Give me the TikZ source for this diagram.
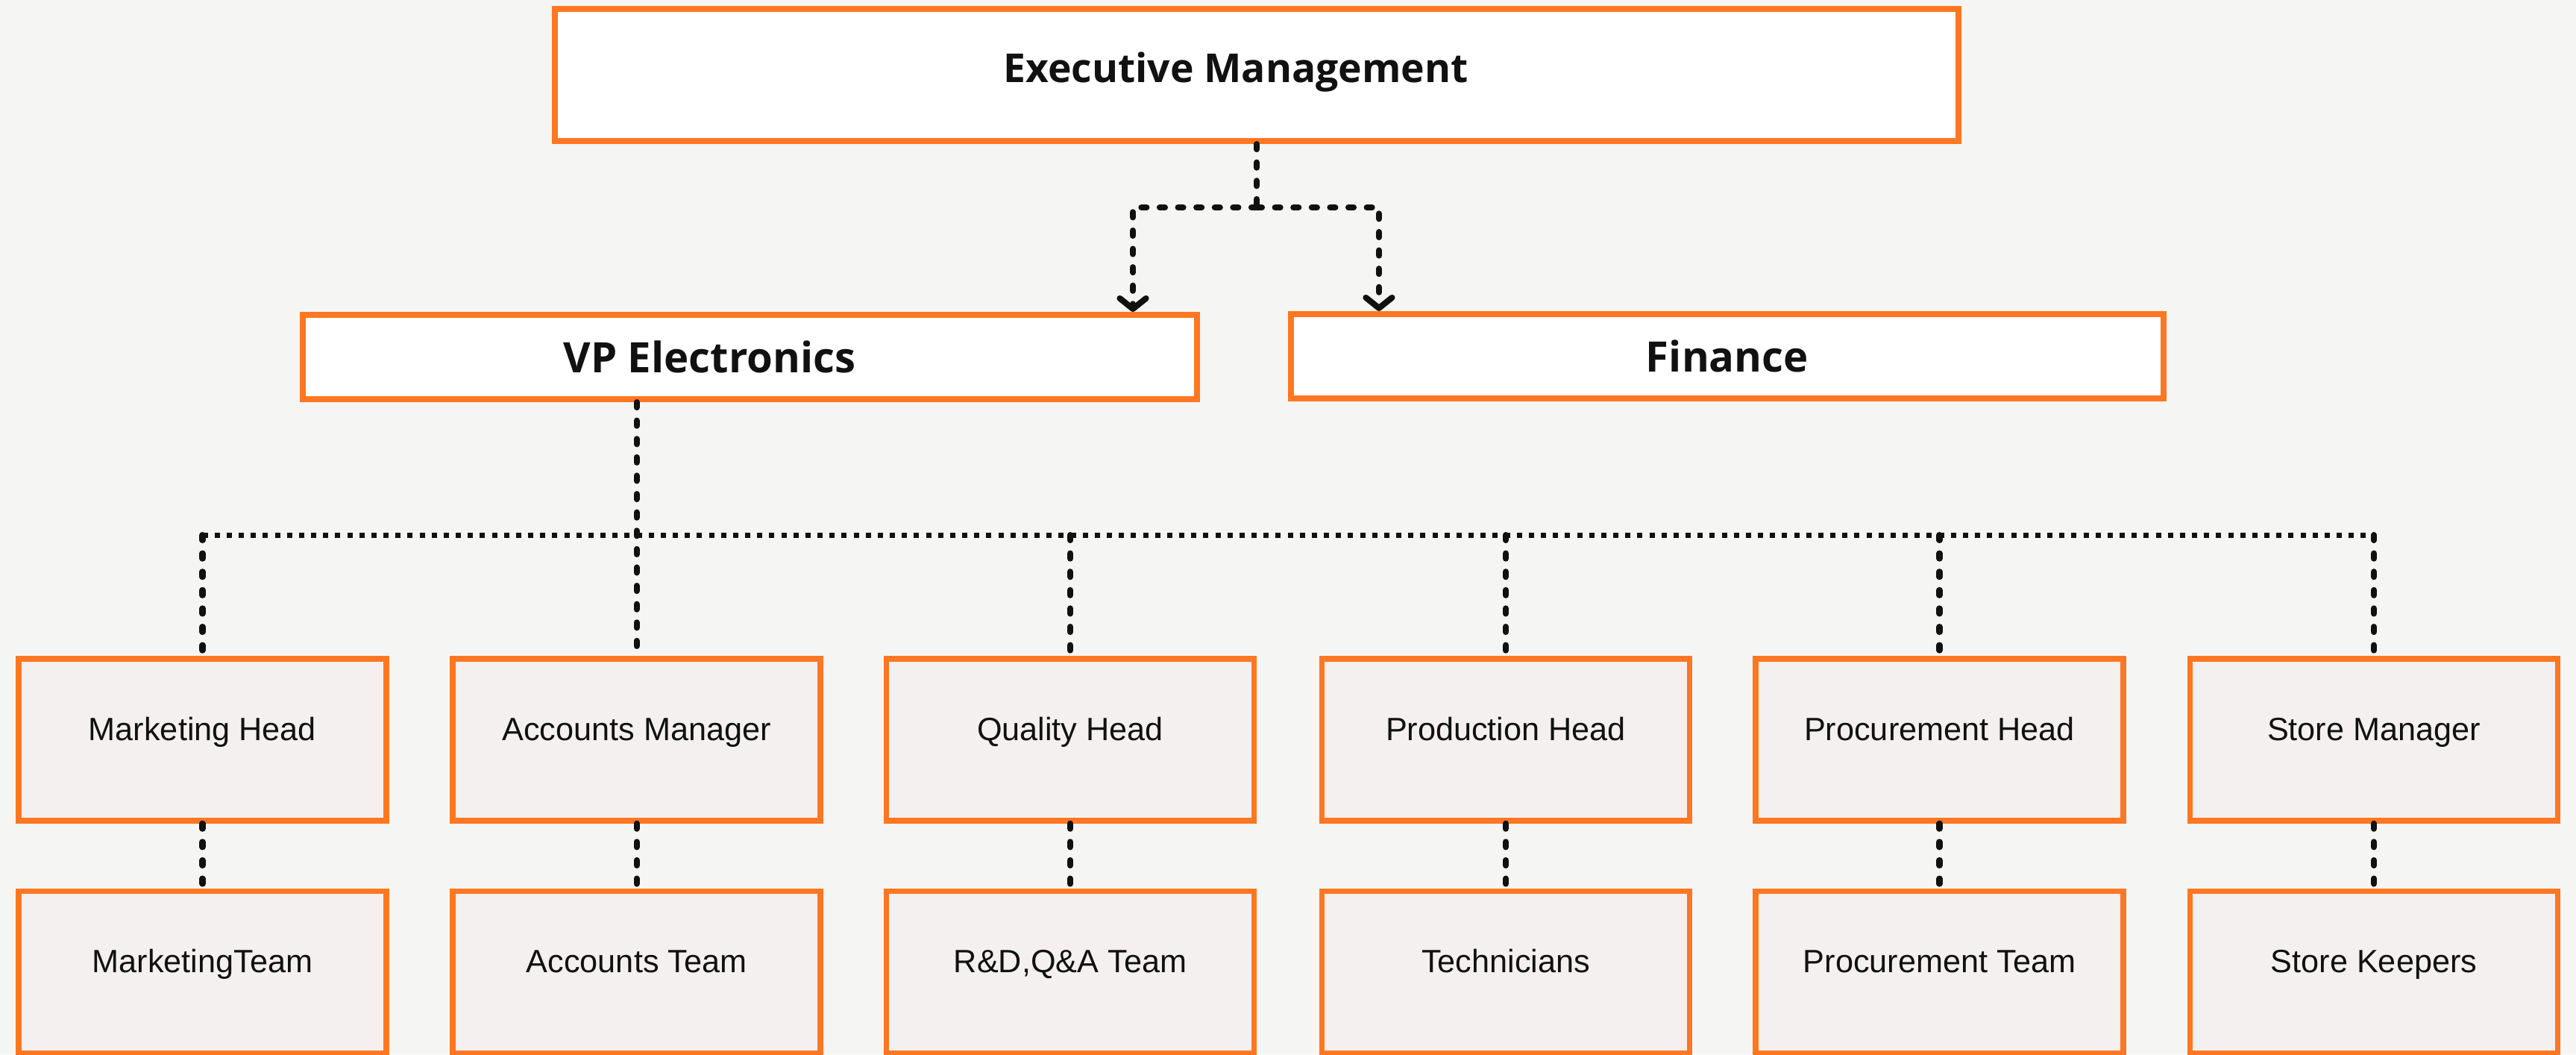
\documentclass[tikz,border=0pt]{standalone}
\usepackage{fontspec}
\setmainfont{Liberation Sans}
\newfontfamily\headfont{Open Sans}
\usepackage{tikz}
\usetikzlibrary{arrows.meta,calc}
\definecolor{orgline}{HTML}{FF7722}
\definecolor{paper}{HTML}{F5F5F3}
\definecolor{boxfill}{HTML}{F3F0EF}
\definecolor{ink}{HTML}{111111}
\tikzstyle{topbox}=[draw=orgline,line width=2.3pt,fill=white,inner sep=0pt]
\tikzstyle{title}=[font=\headfont\bfseries\fontsize{16}{19}\selectfont,text=ink]
\tikzstyle{unitbox}=[draw=orgline,line width=2.1pt,fill=boxfill,minimum width=4.93cm,minimum height=2.17cm,inner sep=0pt,text height=9pt,text depth=8.6pt,font=\fontsize{12.3}{14}\selectfont,text=ink]
\tikzstyle{link}=[draw=ink,line width=2.3pt,line cap=round,dash pattern=on 2pt off 5pt]
\tikzstyle{bus}=[draw=ink,line width=2pt,line cap=butt,dash pattern=on 2pt off 2.6pt]

\begin{document}
\begin{tikzpicture}
    % Page and background
    \path[use as bounding box,fill=paper] (0,0) rectangle (34.54,-14.13);

    % First we draw the top boxes
    \node[topbox,minimum width=18.82cm,minimum height=1.77cm,label={[title,font=\headfont\bfseries\fontsize{15.2}{18}\selectfont,xshift=-2.8mm,yshift=0.4mm]center:Executive Management}] (exec) at (16.85,-1.005) {};
    \node[topbox,minimum width=11.99cm,minimum height=1.13cm,label={[title,xshift=-5.4mm]center:VP Electronics}] (vp) at (10.055,-4.785) {};
    \node[topbox,minimum width=11.70cm,minimum height=1.13cm,label={[title]center:Finance}] (fin) at (23.16,-4.775) {};

    % Then the heads and their teams
    \foreach \x/\name/\head/\team in {2.715/1/Marketing Head/MarketingTeam, 8.536/2/Accounts Manager/Accounts Team, 14.35/3/Quality Head/{R\&D,Q\&A Team}, 20.19/4/Production Head/Technicians, 26.005/5/Procurement Head/Procurement Team, 31.83/6/Store Manager/Store Keepers}
    {
        \node[unitbox] (h\name) at (\x,-9.915) {\head};
        \node[unitbox] (t\name) at (\x,-13.03) {\team};
    }

    % Connect the boxes
    \coordinate (fork) at ($(exec.south)+(0,-0.85)$);
    \coordinate (busline) at (0,-7.17);
    \draw[link] (exec.south) -- (fork);
    \draw[link,-{Straight Barb[round,length=4pt,width=10pt]}] (fork) -| ($(vp.north east)+(-0.9,0)$);
    \draw[link,-{Straight Barb[round,length=4pt,width=10pt]}] (fork) -| ($(fin.north west)+(1.22,0)$);
    \draw[link] (vp.south -| h2.north) -- (h2.north);
    \draw[bus] (h1.north |- busline) -- (h6.north |- busline);
    \foreach \i in {1,3,4,5,6}
        \draw[link] (h\i.north |- busline) -- (h\i.north);
    \foreach \i in {1,...,6}
        \draw[link] (h\i.south) -- (t\i.north);
\end{tikzpicture}
\end{document}
